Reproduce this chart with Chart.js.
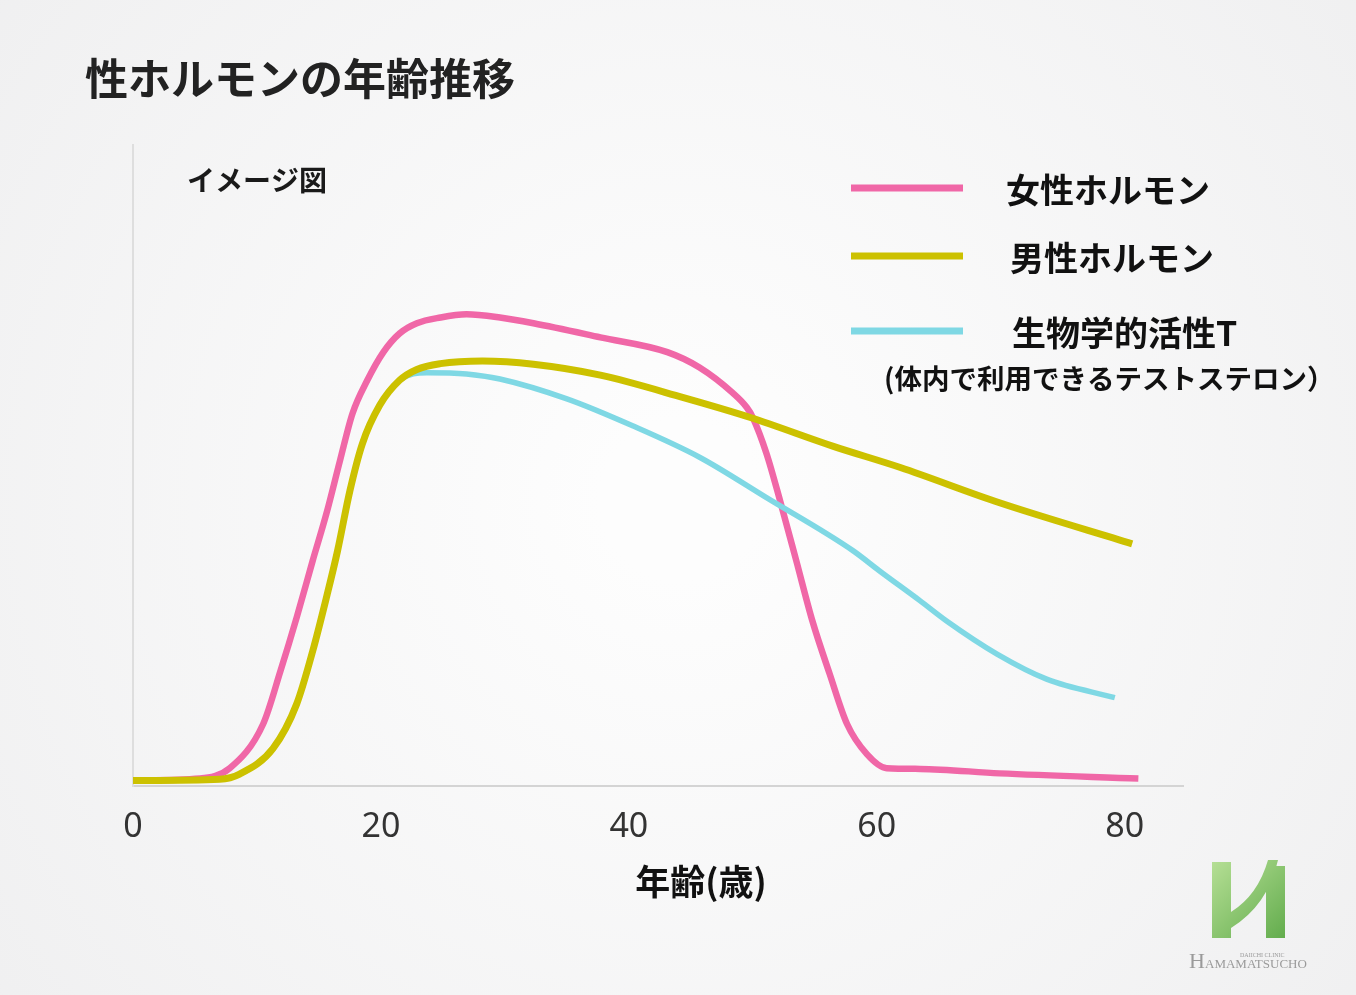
<!DOCTYPE html>
<html lang="ja">
<head>
<meta charset="utf-8">
<title>性ホルモンの年齢推移</title>
<script src="https://cdn.jsdelivr.net/npm/chart.js@4.4.1/dist/chart.umd.min.js"></script>
<style>
  html, body { margin: 0; padding: 0; background: #f5f5f6; }
  canvas { display: block; }
</style>
</head>
<body>
<canvas id="hormoneChart" width="1356" height="995"></canvas>
<script>
// --- data (age in years, level in arbitrary units 0-100) ---
const femaleAges   = [0, 5.4, 7.8, 10.5, 11.9, 13.2, 14.5, 15.6, 16.7, 17.7, 18.9, 20.2, 21.5, 22.9, 24.8, 26.9, 29.6, 32.3, 37.7, 43.1, 45.7, 48.4, 49.5, 50.0, 51.1, 52.2, 53.5, 54.8, 56.2, 57.6, 59.2, 60.8, 63.5, 69.9, 81.1];
const femaleLevels = [0.9, 1.2, 2.8, 9.7, 18.0, 26.3, 35.2, 42.5, 50.8, 58.1, 63.3, 67.7, 70.6, 72.2, 73.1, 73.6, 73.1, 72.2, 70.0, 67.7, 65.3, 61.3, 59.1, 57.5, 51.9, 44.5, 35.2, 25.8, 17.5, 9.7, 5.0, 2.8, 2.7, 2.0, 1.2];

const maleAges   = [0, 7.0, 8.6, 11.3, 13.2, 14.5, 15.6, 16.5, 17.5, 18.5, 19.9, 21.5, 22.9, 24.8, 28.2, 32.3, 37.7, 44.4, 49.8, 56.5, 61.9, 69.9, 80.6];
const maleLevels = [0.9, 1.1, 1.9, 5.9, 12.8, 21.1, 29.4, 36.7, 46.1, 53.4, 59.4, 63.3, 65.0, 65.9, 66.3, 65.8, 64.1, 60.6, 57.5, 53.0, 49.7, 44.2, 37.8];

const bioTAges   = [0, 7.0, 8.6, 11.3, 13.2, 14.5, 15.6, 16.5, 17.5, 18.5, 19.9, 21.5, 23.7, 26.9, 29.6, 35.0, 40.3, 45.7, 51.1, 58.1, 60.2, 63.5, 65.6, 69.7, 73.7, 79.2];
const bioTLevels = [0.9, 1.1, 1.9, 5.9, 12.8, 21.1, 29.4, 36.7, 46.1, 53.4, 59.4, 63.3, 64.5, 64.3, 63.5, 60.4, 56.2, 51.3, 45.0, 36.7, 33.6, 28.9, 25.8, 20.6, 16.7, 13.8];

const seriesNames = ['女性ホルモン', '男性ホルモン', '生物学的活性T'];
const seriesNote = '(体内で利用できるテストステロン）';
const seriesColors = ['#f067a7', '#ccc100', '#7fd8e4'];
const xTicks = [0, 20, 40, 60, 80];

const JP = '"Noto Sans CJK JP", "Noto Sans", sans-serif';

function toPoints(xs, ys) {
    return xs.map((x, i) => ({ x: x, y: ys[i] }));
}

// --- background, titles, legend and logo ---
const decorPlugin = {
    id: 'decor',
    beforeDraw(chart) {
        const ctx = chart.ctx;
        const w = chart.width, h = chart.height;
        ctx.save();
        const g = ctx.createRadialGradient(680, 500, 80, 680, 500, 950);
        g.addColorStop(0, '#fdfdfd');
        g.addColorStop(1, '#eeeeef');
        ctx.fillStyle = g;
        ctx.fillRect(0, 0, w, h);
        ctx.restore();
    },
    afterDraw(chart) {
        const ctx = chart.ctx;
        ctx.save();
        ctx.textBaseline = 'middle';
        ctx.textAlign = 'left';

        // main title
        ctx.fillStyle = '#222';
        ctx.font = 'bold 43px ' + JP;
        ctx.fillText('性ホルモンの年齢推移', 85, 79);

        ctx.fillStyle = '#1a1a1a';
        ctx.font = 'bold 28px ' + JP;
        ctx.fillText('イメージ図', 187, 180);

        // legend
        const rows = [188, 256, 331];
        const textX = [1006, 1010, 1012];
        rows.forEach((y, i) => {
            ctx.strokeStyle = seriesColors[i];
            ctx.lineWidth = 7;
            ctx.beginPath();
            ctx.moveTo(851, y);
            ctx.lineTo(963, y);
            ctx.stroke();
            ctx.fillStyle = '#111';
            ctx.font = 'bold 34px ' + JP;
            ctx.fillText(seriesNames[i], textX[i], y + 2);
        });
        ctx.font = 'bold 27.5px ' + JP;
        ctx.fillText(seriesNote, 884, 379);

        // x axis title
        ctx.textAlign = 'center';
        ctx.font = 'bold 35px ' + JP;
        ctx.fillText('年齢(歳)', 701, 882);

        drawLogo(ctx);
        ctx.restore();
    }
};

function drawLogo(ctx) {
    const g = ctx.createLinearGradient(1210, 860, 1290, 940);
    g.addColorStop(0, '#b7e096');
    g.addColorStop(1, '#5faa4a');
    ctx.fillStyle = g;
    // left post
    ctx.fillRect(1212, 862, 19, 76);
    // right post
    ctx.fillRect(1266, 866, 19, 72);
    // swoosh
    ctx.beginPath();
    ctx.moveTo(1231, 912);
    ctx.quadraticCurveTo(1258, 895, 1268, 860);
    ctx.lineTo(1278, 860);
    ctx.quadraticCurveTo(1268, 905, 1231, 928);
    ctx.closePath();
    ctx.fill();

    ctx.fillStyle = '#9a9a9a';
    ctx.textBaseline = 'alphabetic';
    ctx.textAlign = 'left';
    ctx.font = '22px "Liberation Serif", serif';
    ctx.fillText('H', 1189, 968);
    ctx.font = '13px "Liberation Serif", serif';
    ctx.fillText('AMAMATSUCHO', 1205, 968);
    ctx.font = '6px "Liberation Serif", serif';
    ctx.fillText('DAIICHI CLINIC', 1240, 957);
}

const ctx = document.getElementById('hormoneChart');
new Chart(ctx, {
    type: 'line',
    data: {
        datasets: [
            {
                label: seriesNames[0],
                data: toPoints(femaleAges, femaleLevels),
                borderColor: seriesColors[0],
                borderWidth: 6.5,
                order: 2
            },
            {
                label: seriesNames[1],
                data: toPoints(maleAges, maleLevels),
                borderColor: seriesColors[1],
                borderWidth: 7,
                order: 0
            },
            {
                label: seriesNames[2],
                data: toPoints(bioTAges, bioTLevels),
                borderColor: seriesColors[2],
                borderWidth: 5.5,
                order: 1
            }
        ]
    },
    options: {
        responsive: false,
        animation: false,
        layout: { padding: { left: 133, right: 173, top: 145, bottom: 126 } },
        elements: {
            point: { radius: 0 },
            line: { cubicInterpolationMode: 'monotone', fill: false }
        },
        plugins: {
            legend: { display: false },
            tooltip: { enabled: false }
        },
        scales: {
            x: {
                type: 'linear',
                min: 0,
                max: 84.7,
                afterBuildTicks: axis => {
                    axis.ticks = xTicks.map(v => ({ value: v }));
                },
                grid: { display: false, drawTicks: false },
                border: { display: true, color: '#d4d4d4', width: 2 },
                ticks: {
                    padding: 21,
                    maxRotation: 0,
                    color: '#333',
                    font: { family: '"Noto Sans", sans-serif', size: 34 }
                }
            },
            y: {
                min: 0,
                max: 100,
                grid: { display: false, drawTicks: false },
                border: { display: true, color: '#dedede', width: 2 },
                ticks: { display: false }
            }
        }
    },
    plugins: [decorPlugin]
});
</script>
</body>
</html>
